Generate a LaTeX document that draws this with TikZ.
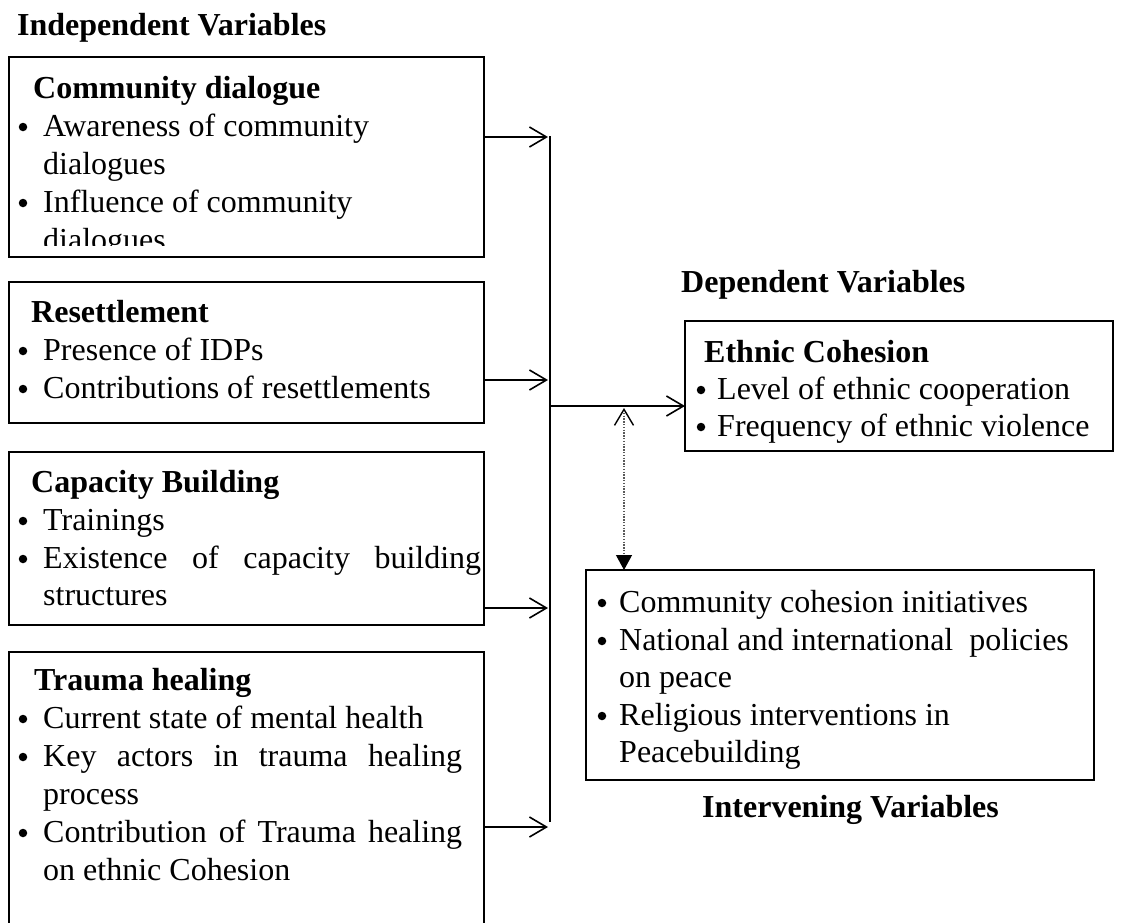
\documentclass[tikz,border=0pt]{standalone}
\usepackage{fontspec}
\setmainfont{Liberation Serif}
\usetikzlibrary{arrows.meta}
\begin{document}
\begin{tikzpicture}[x=1pt,y=-1pt,
  box/.style={draw, line width=1.6pt, anchor=north west, inner sep=0pt, outer sep=0pt},
  txt/.style={anchor=base west, inner sep=0pt, font=\fontsize{32}{38}\selectfont},
  hd/.style={anchor=base west, inner sep=0pt, font=\fontsize{32}{38}\selectfont\bfseries},
  bul/.style={circle, fill=black, inner sep=0pt, minimum size=8.5pt, yshift=9pt},
  arr/.style={line width=1.6pt, -{Straight Barb[length=17pt,width=20pt,line width=1.6pt]}},
  dotline/.style={line width=1.2pt, black!65, dash pattern=on 1.4pt off 1.4pt,
    {Straight Barb[length=16pt,width=19pt,line width=1.4pt,color=black]}-{Triangle[length=15pt,width=16pt,color=black]}}
]
\clip (0,0) rectangle (1124,922);
\fill[white] (0,0) rectangle (1124,922);

% titles
\node[hd] (tind) at (17,35) {Independent Variables};
\node[hd] (tdep) at (681,292) {Dependent Variables};
\node[hd] (tint) at (702,817) {Intervening Variables};

% box 1
\node[box, minimum width=475pt, minimum height=200pt] (b1) at (9,57) {};
\node[hd] (h1) at (33,98) {Community dialogue};
\node[bul] (p11) at (23,136) {};
\node[txt] (l11) at (43,136) {Awareness of community};
\node[txt] (l12) at (43,174) {dialogues};
\node[bul] (p12) at (23,212) {};
\node[txt] (l13) at (43,212) {Influence of community};
\begin{scope}
  \clip (9,57) rectangle (484,245);
  \node[txt] (l14) at (43,250) {dialogues};
\end{scope}

% box 2
\node[box, minimum width=475pt, minimum height=141pt] (b2) at (9,282) {};
\node[hd] (h2) at (31,322) {Resettlement};
\node[bul] (p21) at (23,360) {};
\node[txt] (l21) at (43,360) {Presence of IDPs};
\node[bul] (p22) at (23,398) {};
\node[txt] (l22) at (43,398) {Contributions of resettlements};

% box 3
\node[box, minimum width=475pt, minimum height=173pt] (b3) at (9,452) {};
\node[hd] (h3) at (31,492) {Capacity Building};
\node[bul] (p31) at (23,530) {};
\node[txt] (l31) at (43,530) {Trainings};
\node[bul] (p32) at (23,568) {};
\node[txt] (l32) at (43,568) {\makebox[438pt][s]{Existence of capacity building}};
\node[txt] (l33) at (43,605) {structures};

% box 4
\node[box, minimum width=475pt, minimum height=300pt] (b4) at (9,652) {};
\node[hd] (h4) at (34,690) {Trauma healing};
\node[bul] (p41) at (23,728) {};
\node[txt] (l41) at (43,728) {Current state of mental health};
\node[bul] (p42) at (23,766) {};
\node[txt] (l42) at (43,766) {\makebox[419pt][s]{Key actors in trauma healing}};
\node[txt] (l43) at (43,804) {process};
\node[bul] (p43) at (23,842) {};
\node[txt] (l44) at (43,842) {\makebox[419pt][s]{Contribution of Trauma healing}};
\node[txt] (l45) at (43,880) {on ethnic Cohesion};

% ethnic cohesion box
\node[box, minimum width=428pt, minimum height=130pt] (eth) at (685,321) {};
\node[hd] (he) at (704,362) {Ethnic Cohesion};
\node[bul] (pe1) at (701,399) {};
\node[txt] (le1) at (717,399) {Level of ethnic cooperation};
\node[bul] (pe2) at (701,436) {};
\node[txt] (le2) at (717,436) {Frequency of ethnic violence};

% intervening box
\node[box, minimum width=508pt, minimum height=210pt] (inter) at (586,570) {};
\node[bul] (pi1) at (602,612) {};
\node[txt] (li1) at (619,612) {Community cohesion initiatives};
\node[bul] (pi2) at (602,650) {};
\node[txt] (li2) at (619,650) {National and international\ \ policies};
\node[txt] (li3) at (619,687) {on peace};
\node[bul] (pi3) at (602,725) {};
\node[txt] (li4) at (619,725) {Religious interventions in};
\node[txt] (li5) at (619,762) {Peacebuilding};

% bus and arrows
\coordinate (bustop) at (550,136);
\coordinate (busbot) at (550,822);
\draw[line width=1.6pt] (bustop) -- (busbot);
\coordinate (t1) at (548,137);
\coordinate (t2) at (548,380);
\coordinate (t3) at (548,608);
\coordinate (t4) at (548,827);
\draw[arr] (b1.east |- t1) -- (t1);
\draw[arr] (b2.east |- t2) -- (t2);
\draw[arr] (b3.east |- t3) -- (t3);
\draw[arr] (b4.east |- t4) -- (t4);
\coordinate (m) at (550,406);
\draw[arr] (m) -- (eth.west |- m);

% dotted two-way link
\coordinate (dtop) at (624,408);
\draw[dotline] (dtop) -- (dtop |- inter.north);
\end{tikzpicture}
\end{document}
